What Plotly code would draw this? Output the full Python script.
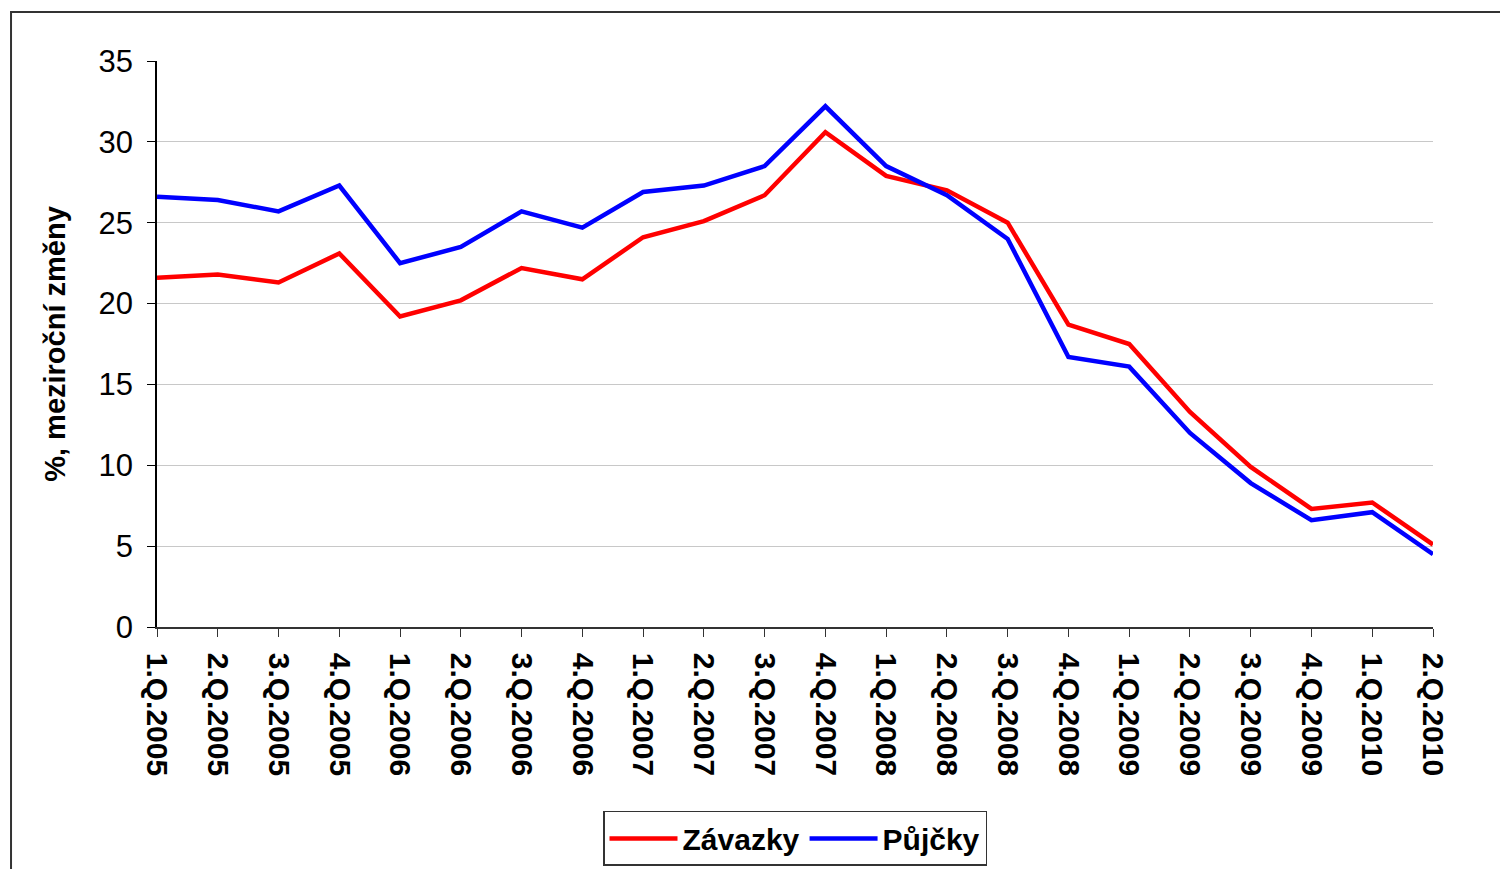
import plotly.graph_objects as go

quarters = [
    "1.Q.2005", "2.Q.2005", "3.Q.2005", "4.Q.2005",
    "1.Q.2006", "2.Q.2006", "3.Q.2006", "4.Q.2006",
    "1.Q.2007", "2.Q.2007", "3.Q.2007", "4.Q.2007",
    "1.Q.2008", "2.Q.2008", "3.Q.2008", "4.Q.2008",
    "1.Q.2009", "2.Q.2009", "3.Q.2009", "4.Q.2009",
    "1.Q.2010", "2.Q.2010",
]
zavazky = [
    21.6, 21.8, 21.3, 23.1, 19.2, 20.2, 22.2, 21.5,
    24.1, 25.1, 26.7, 30.6, 27.9, 27.0, 25.0, 18.7,
    17.5, 13.3, 9.9, 7.3, 7.7, 5.1,
]
pujcky = [
    26.6, 26.4, 25.7, 27.3, 22.5, 23.5, 25.7, 24.7,
    26.9, 27.3, 28.5, 32.2, 28.5, 26.7, 24.0, 16.7,
    16.1, 12.0, 8.9, 6.6, 7.1, 4.5,
]

fig = go.Figure()
fig.add_trace(go.Scatter(
    x=quarters, y=zavazky, mode="lines",
    line=dict(color="#ff0000", width=4.5), name="Závazky",
))
fig.add_trace(go.Scatter(
    x=quarters, y=pujcky, mode="lines",
    line=dict(color="#0000ff", width=4.5), name="Půjčky",
))

# vnější rámeček grafu (vpravo a dole oříznutý jako v originálu)
fig.add_shape(
    type="rect", xref="paper", yref="paper",
    x0=-0.1144, x1=1.08, y0=-0.45, y1=1.0866,
    line=dict(color="#333333", width=2), layer="below",
)

# stránka má 8px okraj body, proto okraje posunuté o 8px
fig.update_layout(
    width=1508, height=869,
    margin=dict(l=149, r=83, t=53, b=250, autoexpand=False),
    paper_bgcolor="white", plot_bgcolor="white",
    font=dict(family="Arial, Liberation Sans, sans-serif", color="black"),
    showlegend=True,
    legend=dict(
        orientation="h", x=0.5, xanchor="center", y=-0.325, yanchor="top",
        bordercolor="#333333", borderwidth=1.5,
        font=dict(size=30, weight="bold"),
        itemwidth=68, tracegroupgap=0,
    ),
)
fig.update_xaxes(
    type="category", range=[0, 21],
    showline=True, linecolor="#333333", linewidth=1.5,
    ticks="outside", ticklen=8, tickcolor="#333333",
    tickangle=90, showgrid=False, ticklabelstandoff=10,
    tickfont=dict(size=30, weight="bold"),
)
fig.update_yaxes(
    range=[0, 35], dtick=5,
    showline=True, linecolor="black", linewidth=1.5,
    ticks="outside", ticklen=8, tickcolor="black",
    gridcolor="#c8c8c8", gridwidth=1, zeroline=False,
    ticklabelstandoff=8,
    tickfont=dict(size=31),
    title=dict(text="%, meziroční změny", font=dict(size=29, weight="bold"), standoff=24),
)

fig.write_html("out.html")
